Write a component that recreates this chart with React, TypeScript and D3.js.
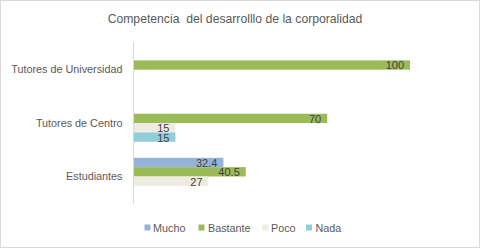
import React from "react";
import * as d3 from "d3";

const categories = ["Tutores de Universidad", "Tutores de Centro", "Estudiantes"];
const seriesNames = ["Mucho", "Bastante", "Poco", "Nada"];
const mucho: (number | null)[] = [null, null, 32.4];
const bastante: (number | null)[] = [100, 70, 40.5];
const poco: (number | null)[] = [null, 15, 27];
const nada: (number | null)[] = [null, 15, null];
const seriesColors = ["#95B3D7", "#9BBB59", "#EEECE1", "#92CDDC"];
const title = "Competencia\u00A0 del desarrolllo de la corporalidad";

const W = 480;
const H = 249;
const FONT = "'Liberation Sans', Arial, sans-serif";

export default function App() {
  const seriesValues = [mucho, bastante, poco, nada];
  const x = d3.scaleLinear().domain([0, 120]).range([134, 465.2]);
  const y = d3.scaleBand<string>().domain(categories).range([43, 203.2]).paddingInner(0).paddingOuter(0);
  const ys = d3
    .scaleBand<string>()
    .domain(seriesNames)
    .range([0, y.bandwidth()])
    .paddingInner(0)
    .paddingOuter(0.856);

  const legendItems = [
    { name: "Mucho", sx: 144.5, tx: 153 },
    { name: "Bastante", sx: 198.5, tx: 208 },
    { name: "Poco", sx: 262.5, tx: 271 },
    { name: "Nada", sx: 306, tx: 315.5 },
  ];

  return (
    <svg width={W} height={H} style={{ position: "absolute", left: 0, top: 0, display: "block" }}>
      <rect x={0.5} y={0.5} width={W - 1} height={H - 2} fill="#ffffff" stroke="#d9d9d9" />
      <text x={235} y={23} textAnchor="middle" fontFamily={FONT} fontSize={12.2} fill="#595959">
        {title}
      </text>
      {categories.map((c) => (
        <text
          key={c}
          x={122.5}
          y={(y(c) as number) + y.bandwidth() / 2}
          dy="0.35em"
          textAnchor="end"
          fontFamily={FONT}
          fontSize={10.8}
          fill="#595959"
        >
          {c}
        </text>
      ))}
      {seriesValues.map((vals, si) =>
        vals.map((v, ci) =>
          v == null ? null : (
            <rect
              key={`${si}-${ci}`}
              x={x(0)}
              y={(y(categories[ci]) as number) + (ys(seriesNames[si]) as number)}
              width={x(v) - x(0)}
              height={ys.bandwidth()}
              fill={seriesColors[si]}
            />
          )
        )
      )}
      <line x1={133.5} x2={133.5} y1={42} y2={204} stroke="#d9d9d9" strokeWidth={1} />
      {seriesValues.map((vals, si) =>
        vals.map((v, ci) =>
          v == null ? null : (
            <text
              key={`l${si}-${ci}`}
              x={x(v) - 6}
              y={(y(categories[ci]) as number) + (ys(seriesNames[si]) as number) + ys.bandwidth() / 2}
              dy="0.4em"
              textAnchor="end"
              fontFamily={FONT}
              fontSize={11}
              fill="#404040"
            >
              {String(v)}
            </text>
          )
        )
      )}
      {legendItems.map((it, i) => (
        <g key={it.name}>
          <rect x={it.sx} y={224.5} width={6} height={6} fill={seriesColors[i]} />
          <text x={it.tx} y={231.5} fontFamily={FONT} fontSize={10.8} fill="#595959">
            {it.name}
          </text>
        </g>
      ))}
    </svg>
  );
}
